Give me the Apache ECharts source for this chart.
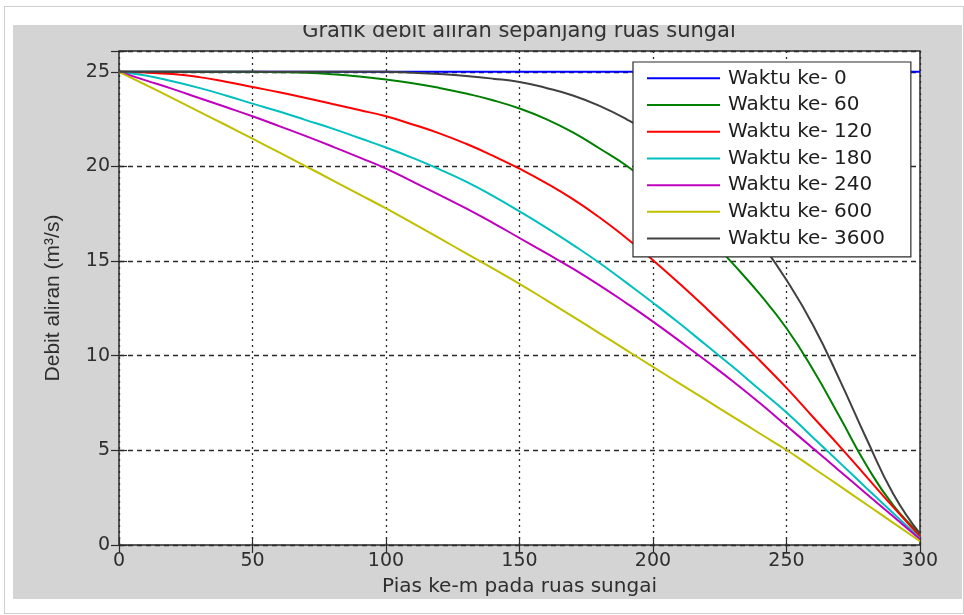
<!DOCTYPE html>
<html>
<head>
<meta charset="utf-8">
<script src="https://cdn.jsdelivr.net/npm/echarts@6/dist/echarts.min.js"></script>
<style>
  html, body { margin: 0; padding: 0; background: #ffffff; }
  #frame { position: absolute; left: 4px; top: 6px; width: 958px; height: 606px; border: 1px solid #cfcfcf; }
  #figure { position: absolute; left: 13px; top: 25px; width: 949px; height: 574px; background: #d4d4d4; }
  #chart { position: absolute; left: 0; top: 0; width: 964px; height: 615px; }
</style>
</head>
<body>
<div id="frame"></div>
<div id="figure"></div>
<div id="chart"></div>
<script>
// Segment index along the river (pias ke-m)
const pias = [0, 10, 20, 30, 40, 50, 60, 70, 80, 90, 100, 110, 120, 130, 140, 150,
              160, 170, 180, 190, 200, 210, 220, 230, 240, 250, 260, 270, 280, 290, 300];

// Discharge (m3/s) along the river at each time step
const waktu0 = [25, 25, 25, 25, 25, 25, 25, 25, 25, 25, 25, 25, 25, 25, 25, 25,
                25, 25, 25, 25, 25, 25, 25, 25, 25, 25, 25, 25, 25, 25, 25];
const waktu60 = [25, 25, 25, 25, 25, 25, 24.98, 24.95, 24.87, 24.75, 24.59, 24.4, 24.15, 23.85, 23.5, 23.06,
                 22.5, 21.8, 20.95, 20.05, 18.95, 17.7, 16.35, 14.85, 13.25, 11.45, 9.25, 6.75, 4.2, 2.1, 0.6];
const waktu120 = [25, 24.96, 24.88, 24.72, 24.48, 24.2, 23.92, 23.62, 23.3, 22.98, 22.65, 22.22, 21.75, 21.2, 20.57, 19.88,
                  19.12, 18.27, 17.3, 16.22, 15.05, 13.8, 12.5, 11.15, 9.75, 8.3, 6.75, 5.2, 3.6, 2.0, 0.45];
const waktu180 = [25, 24.8, 24.5, 24.15, 23.75, 23.32, 22.9, 22.45, 22.0, 21.5, 21.0, 20.45, 19.85, 19.2, 18.45, 17.63,
                  16.77, 15.86, 14.9, 13.86, 12.8, 11.7, 10.55, 9.4, 8.2, 7.0, 5.67, 4.34, 3.0, 1.68, 0.35];
const waktu240 = [25, 24.55, 24.1, 23.62, 23.14, 22.65, 22.13, 21.6, 21.05, 20.48, 19.89, 19.2, 18.5, 17.78, 17.02, 16.22,
                  15.42, 14.6, 13.72, 12.78, 11.8, 10.77, 9.72, 8.64, 7.5, 6.3, 5.1, 3.9, 2.7, 1.5, 0.3];
const waktu600 = [25, 24.31, 23.61, 22.9, 22.19, 21.47, 20.74, 20.01, 19.27, 18.53, 17.78, 17.0, 16.21, 15.41, 14.61, 13.8,
                  12.94, 12.07, 11.18, 10.3, 9.41, 8.53, 7.65, 6.77, 5.89, 5.02, 4.07, 3.11, 2.14, 1.17, 0.2];
const waktu3600 = [25, 25, 25, 25, 25, 25, 25, 25, 25, 25, 25, 24.95, 24.88, 24.78, 24.64, 24.46,
                   24.15, 23.75, 23.2, 22.5, 21.65, 20.6, 19.35, 17.85, 16.05, 14.0, 11.6, 8.7, 5.6, 2.7, 0.6];

const seriesNames = ['Waktu ke- 0', 'Waktu ke- 60', 'Waktu ke- 120', 'Waktu ke- 180',
                     'Waktu ke- 240', 'Waktu ke- 600', 'Waktu ke- 3600'];
const seriesValues = [waktu0, waktu60, waktu120, waktu180, waktu240, waktu600, waktu3600];
const seriesColors = ['#0000ff', '#008000', '#ff0000', '#00bfbf', '#bf00bf', '#bfbf00', '#404040'];

const xTicks = [0, 50, 100, 150, 200, 250, 300];
const yTicks = [0, 5, 10, 15, 20, 25];

const chart = echarts.init(document.getElementById('chart'), null, { renderer: 'canvas' });

const tickFont = { fontFamily: 'DejaVu Sans', fontSize: 19, color: '#2e2e2e' };
const gridLineColor = '#2a2a2a';

const option = {
  animation: false,
  backgroundColor: 'transparent',
  title: {
    text: 'Grafik debit aliran sepanjang ruas sungai',
    left: 519,
    top: 21,
    textAlign: 'center',
    padding: 0,
    textStyle: { fontFamily: 'DejaVu Sans', fontSize: 21, fontWeight: 'normal', color: '#333333' }
  },
  graphic: [
    {
      // band above the figure area that trims the title's top edge
      type: 'rect', z: 100, silent: true,
      shape: { x: 13, y: 10, width: 949, height: 15 },
      style: { fill: '#ffffff' }
    }
  ],
  grid: {
    left: 119, top: 51, width: 801, height: 494,
    show: true, backgroundColor: '#ffffff',
    borderColor: '#2b2b2b', borderWidth: 1.5,
    containLabel: false
  },
  legend: {
    orient: 'vertical',
    left: 633, top: 62,
    padding: [3, 26, 5, 14],
    itemGap: 0,
    itemWidth: 73,
    itemHeight: 2,
    icon: 'rect',
    backgroundColor: '#ffffff',
    borderColor: '#2b2b2b',
    borderWidth: 1.2,
    borderRadius: 0,
    textStyle: { fontFamily: 'DejaVu Sans', fontSize: 20, color: '#1e1e1e', lineHeight: 26.7, padding: [0, 0, 0, 3] },
    data: seriesNames
  },
  xAxis: [
    {
      type: 'value', min: xTicks[0], max: xTicks[xTicks.length - 1], interval: 50,
      position: 'bottom',
      name: 'Pias ke-m pada ruas sungai',
      nameLocation: 'middle', nameGap: 32,
      nameTextStyle: { fontFamily: 'DejaVu Sans', fontSize: 20, color: '#2e2e2e' },
      axisLine: { show: false },
      axisTick: { show: true, inside: true, length: 8, lineStyle: { color: '#2b2b2b', width: 1.2 } },
      axisLabel: Object.assign({ margin: 7, formatter: v => xTicks.includes(v) ? String(v) : '' }, tickFont),
      splitLine: { show: true, lineStyle: { color: gridLineColor, width: 1.3, type: [2, 4] } }
    },
    {
      type: 'value', min: xTicks[0], max: xTicks[xTicks.length - 1], interval: 50,
      position: 'top',
      axisLine: { show: false },
      axisTick: { show: true, inside: true, length: 8, lineStyle: { color: '#2b2b2b', width: 1.2 } },
      axisLabel: { show: false },
      splitLine: { show: false }
    }
  ],
  yAxis: [
    {
      type: 'value', min: 0, max: 26.1, interval: 5,
      position: 'left',
      name: 'Debit aliran (m³/s)',
      nameLocation: 'middle', nameGap: 55,
      nameTextStyle: { fontFamily: 'Liberation Sans', fontSize: 21, color: '#2e2e2e' },
      axisLine: { show: false },
      axisTick: { show: true, inside: true, length: 8, lineStyle: { color: '#2b2b2b', width: 1.2 } },
      axisLabel: Object.assign({ margin: 9, formatter: v => yTicks.includes(v) ? String(v) : '' }, tickFont),
      splitLine: { show: true, lineStyle: { color: gridLineColor, width: 1.3, type: [5, 4] } }
    },
    {
      type: 'value', min: 0, max: 26.1, interval: 5,
      position: 'right',
      axisLine: { show: false },
      axisTick: { show: true, inside: true, length: 8, lineStyle: { color: '#2b2b2b', width: 1.2 } },
      axisLabel: { show: false },
      splitLine: { show: false }
    }
  ],
  series: seriesNames.map((name, i) => ({
    name: name,
    type: 'line',
    xAxisIndex: 0,
    yAxisIndex: 0,
    showSymbol: false,
    symbol: 'none',
    smooth: 0.5,
    color: seriesColors[i],
    lineStyle: { color: seriesColors[i], width: 2 },
    data: pias.map((x, k) => [x, seriesValues[i][k]])
  }))
};

chart.setOption(option);
</script>
</body>
</html>
